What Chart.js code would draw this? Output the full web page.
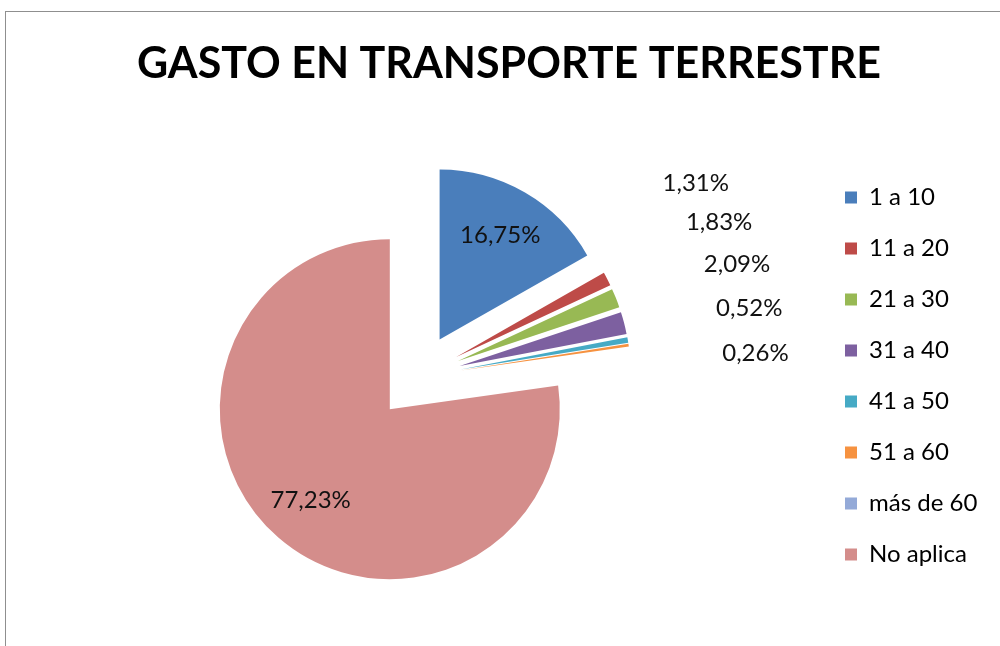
<!DOCTYPE html>
<html>
<head>
<meta charset="utf-8">
<title>Gasto en transporte terrestre</title>
<script src="https://cdn.jsdelivr.net/npm/chart.js@4.4.1/dist/chart.umd.min.js"></script>
<style>
    html, body { margin: 0; padding: 0; background: #fff; overflow: hidden; }
    #wrap { position: relative; width: 1000px; height: 646px; }
    #frame { position: absolute; left: 5px; top: 11px; width: 1200px; height: 900px;
             border-top: 1px solid #8f8f8f; border-left: 1px solid #8f8f8f; }
    #pieChart { position: absolute; left: 0; top: 0; }
</style>
</head>
<body>
<div id="wrap">
    <div id="frame"></div>
    <canvas id="pieChart" width="1000" height="646"></canvas>
</div>
<script>
    "use strict";
    // Datos
    var categories = ['1 a 10', '11 a 20', '21 a 30', '31 a 40', '41 a 50', '51 a 60', 'más de 60', 'No aplica'];
    var percentages = [16.75, 1.31, 1.83, 2.09, 0.52, 0.26, 0, 77.23];
    var sliceColors = ['#4a7ebb', '#be4b48', '#98b954', '#7d60a0', '#46aac5', '#f69240', '#94aad8', '#d48d8b'];
    var chartTitle = 'GASTO EN TRANSPORTE TERRESTRE';

    var EXPLODE = 43;                       // separacion de cada porcion
    var MIN_GAP = 7.7 * Math.PI / 180;      // angulo minimo entre etiquetas exteriores
    var LABEL_TILT = -3 * Math.PI / 180;    // las etiquetas exteriores se inclinan hacia arriba

    //        Dibuja cada porcion desplazada sobre su angulo medio
    var explodePlugin = {
        id: 'explodeSlices',
        beforeDatasetDraw: function(chart, args) {
            var ctx = chart.ctx;
            args.meta.data.forEach(function(arc) {
                var mid = (arc.startAngle + arc.endAngle) / 2;
                ctx.save();
                ctx.translate(Math.cos(mid) * EXPLODE, Math.sin(mid) * EXPLODE);
                arc.draw(ctx);
                ctx.restore();
            });
            return false;
        }
    };

    //        Etiquetas de porcentaje: dentro para las grandes, fuera para las pequeñas
    var labelPlugin = {
        id: 'sliceLabels',
        afterDatasetsDraw: function(chart) {
            var ctx = chart.ctx;
            var arcs = chart.getDatasetMeta(0).data;
            var outside = [];
            ctx.save();
            ctx.font = '24px Lato';
            ctx.fillStyle = '#111';
            ctx.textAlign = 'center';
            ctx.textBaseline = 'middle';
            arcs.forEach(function(arc, i) {
                var value = percentages[i];
                if (!value) {
                    return;
                }
                var mid = (arc.startAngle + arc.endAngle) / 2;
                var text = value.toFixed(2).replace('.', ',') + '%';
                if (value >= 10) {
                    var r = EXPLODE + arc.outerRadius * 0.71;
                    ctx.fillText(text, arc.x + Math.cos(mid) * r, arc.y + Math.sin(mid) * r);
                } else {
                    outside.push({text: text, angle: mid, x: arc.x, y: arc.y, r: arc.outerRadius});
                }
            });
            // separar las etiquetas pequeñas para que no se pisen
            for (var k = 0; k < 200; k++) {
                for (var j = 0; j < outside.length - 1; j++) {
                    var gap = outside[j + 1].angle - outside[j].angle;
                    if (gap < MIN_GAP) {
                        var d = (MIN_GAP - gap) / 2;
                        outside[j].angle -= d;
                        outside[j + 1].angle += d;
                    }
                }
            }
            outside.forEach(function(l) {
                var rho = l.r * 1.99;
                var a = l.angle + LABEL_TILT;
                ctx.fillText(l.text, l.x + Math.cos(a) * rho, l.y + Math.sin(a) * rho);
            });
            ctx.restore();
        }
    };

    //        Ancho fijo de la leyenda para dejar la torta donde estaba
    var legendWidthPlugin = {
        id: 'legendWidth',
        beforeInit: function(chart) {
            var originalFit = chart.legend.fit;
            chart.legend.fit = function() {
                originalFit.call(this);
                this.width = 182;
            };
        }
    };

    var ctx = document.getElementById('pieChart').getContext('2d');
    new Chart(ctx, {
        type: 'pie',
        data: {
            labels: categories,
            datasets: [{
                data: percentages,
                backgroundColor: sliceColors,
                borderWidth: 0,
                radius: 170
            }]
        },
        options: {
            responsive: false,
            animation: false,
            events: [],
            layout: {
                padding: {left: 18, right: 0, top: 0, bottom: 51}
            },
            plugins: {
                title: {
                    display: true,
                    text: chartTitle,
                    color: '#000',
                    font: {family: 'Lato', size: 43, weight: 'bold'},
                    padding: {top: 38, bottom: 69}
                },
                legend: {
                    position: 'right',
                    align: 'start',
                    fullSize: false,
                    labels: {
                        boxWidth: 12,
                        boxHeight: 12,
                        padding: 27,
                        color: '#000',
                        font: {family: 'Lato', size: 24}
                    }
                },
                tooltip: {enabled: false}
            }
        },
        plugins: [explodePlugin, labelPlugin, legendWidthPlugin]
    });
</script>
</body>
</html>
